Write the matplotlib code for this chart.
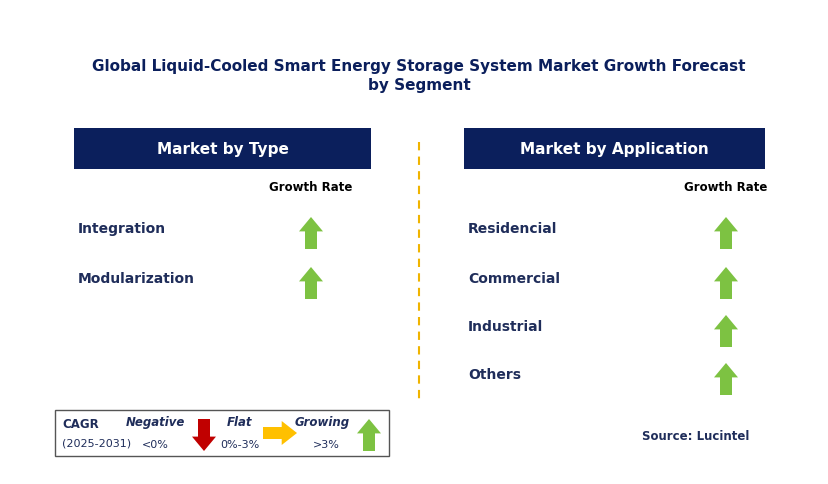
import matplotlib
matplotlib.use("Agg")
import matplotlib.pyplot as plt
from matplotlib.patches import Rectangle, Polygon

title = "Global Liquid-Cooled Smart Energy Storage System Market Growth Forecast\nby Segment"
type_cats = ["Integration", "Modularization"]
type_trend = ["up", "up"]
app_cats = ["Residencial", "Commercial", "Industrial", "Others"]
app_trend = ["up", "up", "up", "up"]

NAVY = "#0b1f5c"
GREEN = "#7dc242"
RED = "#c00000"
YELLOW = "#ffc000"
TXT = "#1f2d5a"

fig = plt.figure(figsize=(8.29, 4.85), dpi=100)
ax = fig.add_axes([0, 0, 1, 1])
ax.set_xlim(0, 829); ax.set_ylim(485, 0); ax.axis("off")
fn = "DejaVu Sans"

def arrow(cx, cy, d, h=32, w=24, bw=12, color=GREEN):
    hh = h * 0.45
    if d == "up":
        pts = [(cx, cy - h/2), (cx + w/2, cy - h/2 + hh), (cx + bw/2, cy - h/2 + hh),
               (cx + bw/2, cy + h/2), (cx - bw/2, cy + h/2), (cx - bw/2, cy - h/2 + hh),
               (cx - w/2, cy - h/2 + hh)]
    elif d == "down":
        pts = [(x, 2*cy - y) for x, y in arrow_pts(cx, cy, h, w, bw)]
    else:
        pts = [(cx + h/2, cy), (cx + h/2 - hh, cy - w/2), (cx + h/2 - hh, cy - bw/2),
               (cx - h/2, cy - bw/2), (cx - h/2, cy + bw/2), (cx + h/2 - hh, cy + bw/2),
               (cx + h/2 - hh, cy + w/2)]
    ax.add_patch(Polygon(pts, closed=True, color=color, lw=0))

def arrow_pts(cx, cy, h, w, bw):
    hh = h * 0.45
    return [(cx, cy - h/2), (cx + w/2, cy - h/2 + hh), (cx + bw/2, cy - h/2 + hh),
            (cx + bw/2, cy + h/2), (cx - bw/2, cy + h/2), (cx - bw/2, cy - h/2 + hh),
            (cx - w/2, cy - h/2 + hh)]

ax.text(419, 76, title, ha="center", va="center", fontsize=11, fontweight="bold",
        color=NAVY, family=fn, linespacing=1.3)

def panel(x0, x1, header, cats, trends, arrow_x, ys):
    ax.add_patch(Rectangle((x0, 129), x1 - x0, 41, color=NAVY, lw=0))
    ax.text((x0 + x1)/2, 150, header, ha="center", va="center", color="white",
            fontsize=11, fontweight="bold", family=fn)
    ax.text(arrow_x, 188, "Growth Rate", ha="center", va="center", fontsize=8.5,
            fontweight="bold", color="black", family=fn)
    for c, t, y in zip(cats, trends, ys):
        ax.text(x0 + 4, y, c, ha="left", va="center", fontsize=10, fontweight="bold",
                color=TXT, family=fn)
        arrow(arrow_x, y + 5, t)

panel(74, 371, "Market by Type", type_cats, type_trend, 311, [229, 279])
panel(464, 765, "Market by Application", app_cats, app_trend, 726, [229, 279, 327, 375])

ax.plot([419, 419], [143, 405], ls=(0, (4, 3)), color="#f0b400", lw=1.5)

# legend
ax.add_patch(Rectangle((55, 411), 334, 46, fill=False, ec="#555555", lw=1))
ax.text(62, 425, "CAGR", fontsize=8.5, fontweight="bold", color=TXT, va="center", family=fn)
ax.text(62, 444, "(2025-2031)", fontsize=8, color=TXT, va="center", family=fn)
ax.text(155, 423, "Negative", fontsize=8.5, fontweight="bold", style="italic", color=TXT, ha="center", va="center", family=fn)
ax.text(155, 445, "<0%", fontsize=8, color=TXT, ha="center", va="center", family=fn)
ax.add_patch(Polygon([(x, 2*436 - y) for x, y in arrow_pts(204, 436, 32, 24, 12)], color=RED, lw=0))
ax.text(240, 423, "Flat", fontsize=8.5, fontweight="bold", style="italic", color=TXT, ha="center", va="center", family=fn)
ax.text(240, 445, "0%-3%", fontsize=8, color=TXT, ha="center", va="center", family=fn)
arrow(280, 434, "right", h=34, w=24, bw=12, color=YELLOW)
ax.text(322, 423, "Growing", fontsize=8.5, fontweight="bold", style="italic", color=TXT, ha="center", va="center", family=fn)
ax.text(326, 445, ">3%", fontsize=8, color=TXT, ha="center", va="center", family=fn)
arrow(369, 436, "up", h=32, w=24, bw=12)

ax.text(749, 437, "Source: Lucintel", ha="right", va="center", fontsize=8.5,
        fontweight="bold", color=TXT, family=fn)

fig.savefig("out.png", dpi=100)
